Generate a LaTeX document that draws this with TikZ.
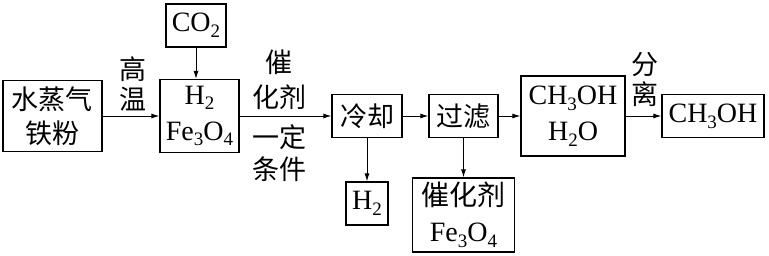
\documentclass[tikz,border=0pt]{standalone}
\usepackage{fontspec}
\setmainfont{Liberation Serif}
\newfontfamily\cjk{Noto Sans CJK SC}
\usetikzlibrary{arrows.meta}
\newcommand\sbx[1]{\raisebox{-0.45ex}{\fontsize{19}{19}\selectfont #1}}
\begin{document}
\begin{tikzpicture}[x=1pt,y=-1pt,
 box/.style={draw, line width=1.2pt, inner sep=0pt, align=center, font=\fontsize{28}{36}\selectfont},
 cbox/.style={box, font=\cjk\fontsize{27}{34}\selectfont},
 arr/.style={-{Latex[length=8pt,width=5pt]}, line width=1pt},
 lbl/.style={inner sep=0pt, align=center}]
\useasboundingbox (0,0) rectangle (769,255);
% boxes
\node[cbox, minimum width=99pt, minimum height=71pt] (A) at (52.5,116) {水蒸气\\铁粉};
\node[box, minimum width=79pt, minimum height=73pt] (B) at (199.5,116) {H\sbx{2}\\Fe\sbx{3}O\sbx{4}};
\node[box, minimum width=60pt, minimum height=43pt] (CO) at (196,25.5) {CO\sbx{2}};
\node[cbox, minimum width=70pt, minimum height=43pt] (L) at (367,116) {冷却};
\node[cbox, minimum width=69pt, minimum height=43pt] (F) at (463.5,116) {过滤};
\node[box, minimum width=104pt, minimum height=80pt] (M) at (573,116) {CH\sbx{3}OH\\H\sbx{2}O};
\node[box, minimum width=102pt, minimum height=43pt] (P) at (713,116) {CH\sbx{3}OH};
\node[box, minimum width=42pt, minimum height=43pt] (H) at (367,203.5) {H\sbx{2}};
\node[box, minimum width=102pt, minimum height=74pt] (C) at (463.5,215) {{\cjk 催化剂}\\Fe\sbx{3}O\sbx{4}};
% labels
\node[lbl, font=\cjk\fontsize{27}{30}\selectfont] (gw) at (133,84) {高\\温};
\node[lbl, font=\cjk\fontsize{27}{35}\selectfont] (ch) at (279,80) {催\\化剂};
\node[lbl, font=\cjk\fontsize{27}{32}\selectfont] (yd) at (279,153) {一定\\条件};
\node[lbl, font=\cjk\fontsize{27}{30}\selectfont] (fl) at (645,79) {分\\离};
% arrows
\draw[arr] (A.east) -- (B.west);
\draw[arr] (CO.south) -- (B.north -| CO.south);
\draw[arr] (B.east) -- (L.west);
\draw[arr] (L.east) -- (F.west);
\draw[arr] (F.east) -- (M.west);
\draw[arr] (M.east) -- (P.west);
\draw[arr] (L.south) -- (H.north);
\draw[arr] (F.south) -- (C.north);
\end{tikzpicture}
\end{document}
